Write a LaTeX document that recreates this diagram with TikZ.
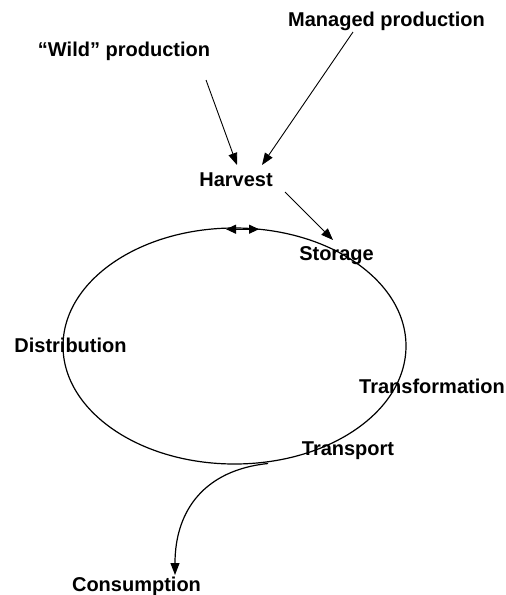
\documentclass[tikz,border=0pt]{standalone}
\usepackage{fontspec}
\setmainfont{Liberation Sans}
\usetikzlibrary{arrows.meta}
\begin{document}
\begin{tikzpicture}[x=1pt,y=-1pt,
  lbl/.style={font=\fontsize{20}{24}\selectfont\bfseries, inner sep=0pt, anchor=base},
  arr/.style={-{Triangle[length=12pt,width=9pt]}, line width=0.9pt},
  loop/.style={line width=1.2pt}]
\useasboundingbox (0,0) rectangle (506,595);
\node[lbl] (managed) at (386.5,26.5) {Managed production};
\node[lbl] (wild) at (124,56) {“Wild” production};
\node[lbl] (harvest) at (236,186) {Harvest};
\node[lbl] (storage) at (336.5,260) {Storage};
\node[lbl] (distribution) at (70.5,352) {Distribution};
\node[lbl] (transformation) at (432,393) {Transformation};
\node[lbl] (transport) at (348,455) {Transport};
\node[lbl] (consumption) at (136.5,591) {Consumption};
\draw[loop] (234.5,346) ellipse [x radius=171.5, y radius=118];
\coordinate (wa) at (206,80);
\coordinate (wb) at (237,165);
\coordinate (ma) at (353,32);
\coordinate (mb) at (262,165);
\coordinate (ha) at (285,192);
\coordinate (hb) at (333,240);
\draw[arr] (wa) -- (wb);
\draw[arr] (ma) -- (mb);
\draw[arr] (ha) -- (hb);
\coordinate (dl) at (226,229.2);
\coordinate (dr) at (259,229.2);
\draw[{Triangle[length=10pt,width=9pt]}-{Triangle[length=10pt,width=9pt]}, line width=1.1pt] (dl) -- (dr);
\coordinate (cs) at (268,463.5);
\coordinate (ce) at (175,575);
\draw[arr, line width=1.2pt] (cs) .. controls (205,470) and (175,510) .. (ce);
\end{tikzpicture}
\end{document}
